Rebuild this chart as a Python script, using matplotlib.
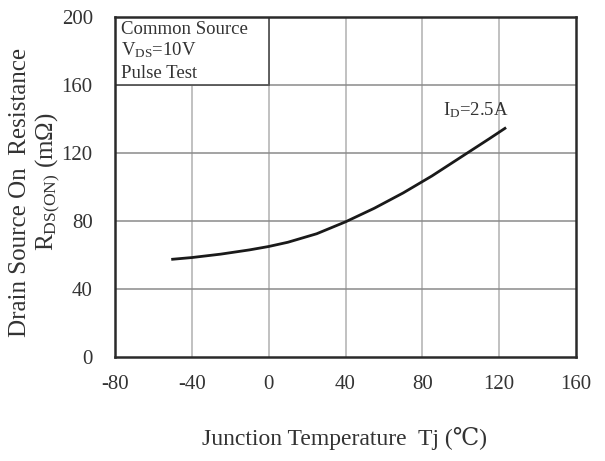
import matplotlib
matplotlib.use("Agg")
import matplotlib.pyplot as plt
from matplotlib.patches import Rectangle

# Data
temp_c = [-50, -40, -25, -10, 0, 10, 25, 40, 55, 70, 85, 100, 115, 123]
rds_mohm = [57.5, 58.5, 60.5, 63.0, 65.0, 67.5, 72.5, 79.5, 87.5, 96.5, 106.5, 117.5, 128.5, 134.5]
x_ticks = [-80, -40, 0, 40, 80, 120, 160]
y_ticks = [0, 40, 80, 120, 160, 200]
curve_label = r"$\mathrm{I_D}$=2.5A"
box_lines = ["Common Source", r"$\mathrm{V_{DS}}$=10V", "Pulse Test"]

plt.rcParams['font.family'] = ['Liberation Serif', 'DejaVu Serif', 'DejaVu Sans']
plt.rcParams['axes.unicode_minus'] = False
plt.rcParams['mathtext.fontset'] = 'custom'
plt.rcParams['mathtext.rm'] = 'Liberation Serif'
plt.rcParams['mathtext.it'] = 'Liberation Serif:italic'
plt.rcParams['mathtext.bf'] = 'Liberation Serif:bold'

fig = plt.figure(figsize=(6.05, 4.61), dpi=100)
ax = fig.add_axes([115/605, 1 - 357/461, (576-115)/605, (357-17)/461])

ax.set_xlim(-80, 160)
ax.set_ylim(0, 200)
ax.set_xticks(x_ticks)
ax.set_yticks(y_ticks)
ax.tick_params(length=0, labelsize=15, colors='#333333')
ax.tick_params(axis='x', pad=13)
ax.tick_params(axis='y', pad=16)

for xv in x_ticks[1:-1]:
    ax.axvline(xv, color='#b0b0b0', lw=1.1, zorder=1)
for yv in y_ticks[1:-1]:
    ax.axhline(yv, color='#8a8a8a', lw=1.1, zorder=1)

for s in ax.spines.values():
    s.set_linewidth(1.8)
    s.set_color('#2a2a2a')

ax.add_patch(Rectangle((-80, 160), 80, 40, facecolor='white', edgecolor='#555555', lw=1.3, zorder=2))

ax.plot(temp_c, rds_mohm, color='#1a1a1a', lw=2.0, zorder=3)

ax.text(108, 145, curve_label, fontsize=13.5, ha='center', va='center', color='#333333', zorder=4)

box_y = [192.5, 180.5, 167.0]
for t, yv in zip(box_lines, box_y):
    ax.text(-77, yv, t, fontsize=13.5, ha='left', va='center', color='#333333', zorder=4)

fig.text(20/605, 1 - 192/461, "Drain Source On  Resistance", rotation=90, fontsize=18,
         ha='center', va='center', color='#333333')
fig.text(48/605, 1 - 182/461, r"$\mathrm{R_{DS(ON)}}$ (mΩ)", rotation=90, fontsize=18,
         ha='center', va='center', color='#333333')
fig.text(344/605, 1 - 438/461, "Junction Temperature  Tj (℃)", fontsize=17,
         ha='center', va='center', color='#333333')

fig.savefig("out.png", dpi=100)
